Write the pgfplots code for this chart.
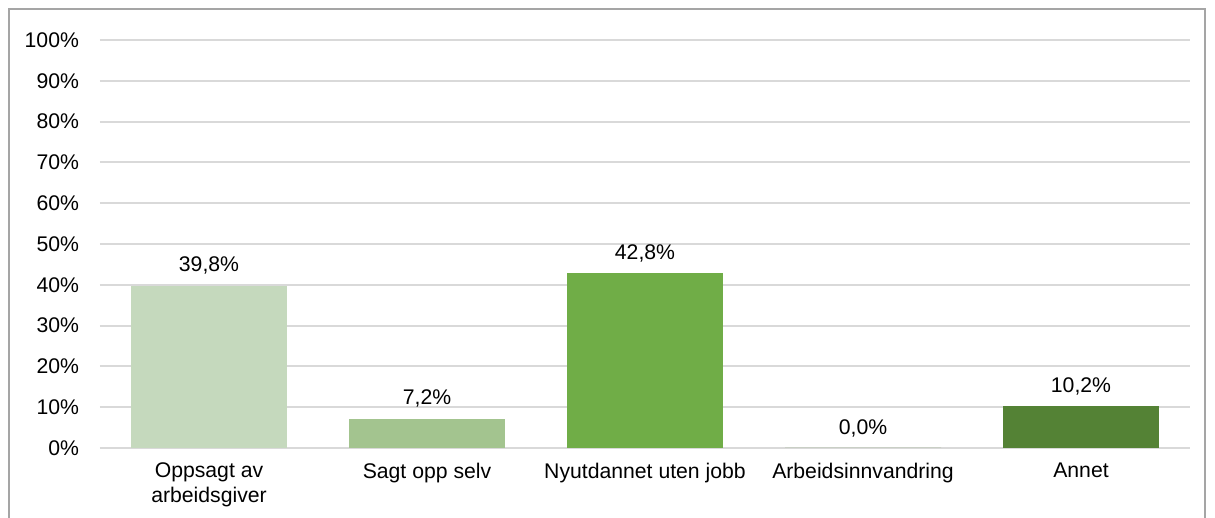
\documentclass[border=0pt]{standalone}
\usepackage{pgfplots}
\pgfplotsset{compat=1.18}
\usetikzlibrary{calc}
\usepackage{fontspec}
\setmainfont{Liberation Sans}
\definecolor{c1}{RGB}{197,217,189}
\definecolor{c2}{RGB}{163,196,143}
\definecolor{c3}{RGB}{112,173,71}
\definecolor{c4}{RGB}{90,140,60}
\definecolor{c5}{RGB}{84,130,53}
\definecolor{gridc}{RGB}{217,217,217}
\definecolor{framec}{RGB}{165,165,165}
\begin{document}
\begin{tikzpicture}
\begin{axis}[
  name=ax,
  scale only axis,
  width=545pt, height=204pt,
  xmin=-0.5, xmax=4.5, ymin=0, ymax=100,
  ytick={0,10,...,100},
  yticklabel={\pgfmathprintnumber{\tick}\%},
  xtick={0,1,2,3,4},
  xticklabels={{Oppsagt av\\arbeidsgiver},{Sagt opp selv},{Nyutdannet uten jobb},{Arbeidsinnvandring},{Annet}},
  xticklabel style={align=center},
  x tick label style={yshift=-4pt},
  ymajorgrids, grid style={gridc, line width=1pt},
  axis line style={draw=none},
  major tick length=0pt,
  tick style={draw=none},
  yticklabel style={xshift=-7pt},
  /pgf/number format/assume math mode=true,
  tick label style={font=\fontsize{10.6}{12.5}\selectfont, text=black},
  ybar, bar width=78pt, bar shift=0pt,
  nodes near coords={\pgfmathprintnumber[fixed,fixed zerofill,precision=1,use comma]{\pgfplotspointmeta}\%},
  nodes near coords style={font=\fontsize{10.6}{12.5}\selectfont, text=black, yshift=2pt},
  clip=false,
]
\addplot[fill=c1, draw=none] coordinates {(0,39.8)};
\addplot[fill=c2, draw=none] coordinates {(1,7.2)};
\addplot[fill=c3, draw=none] coordinates {(2,42.8)};
\addplot[fill=c4, draw=none] coordinates {(3,0.0)};
\addplot[fill=c5, draw=none] coordinates {(4,10.2)};
\end{axis}
\draw[framec, line width=0.8pt] ($(ax.south west)+(-45.5pt,-40pt)$) -- ($(ax.north west)+(-45.5pt,15.5pt)$) -- ($(ax.north east)+(7.5pt,15.5pt)$) -- ($(ax.south east)+(7.5pt,-40pt)$);
\pgfresetboundingbox
\path[use as bounding box] ($(ax.south west)+(-50pt,-35pt)$) rectangle ($(ax.north east)+(12.5pt,20pt)$);
\end{tikzpicture}
\end{document}
